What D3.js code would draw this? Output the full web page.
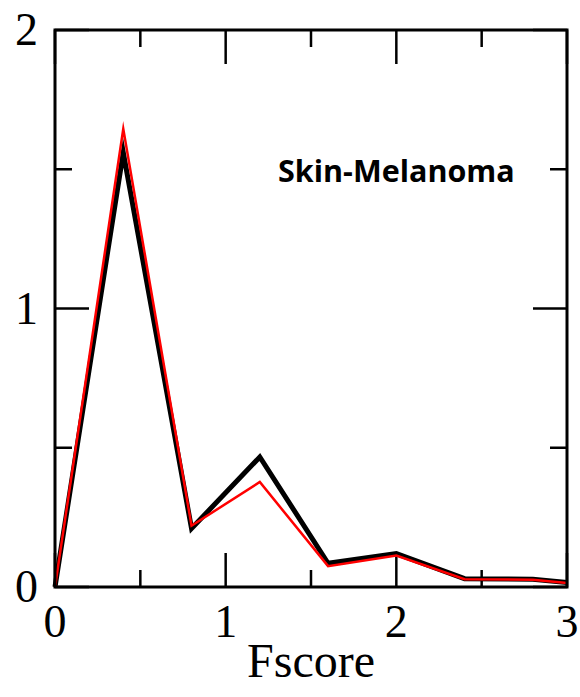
<!DOCTYPE html>
<html>
<head>
<meta charset="utf-8">
<script src="https://cdn.jsdelivr.net/npm/d3@7"></script>
<style>
  html, body { margin: 0; padding: 0; background: #fff; }
  svg { display: block; }
</style>
</head>
<body>
<svg id="chart" width="580" height="697"></svg>
<script>
const fscore = [0, 0.4, 0.8, 1.2, 1.6, 2.0, 2.4, 2.8, 3.0];
const blackSeries = [0, 1.56, 0.21, 0.467, 0.085, 0.12, 0.03, 0.028, 0.016];
const redSeries = [0, 1.645, 0.22, 0.377, 0.075, 0.113, 0.028, 0.026, 0.014];
const xTickLabels = ["0", "1", "2", "3"];
const yTickLabels = ["0", "1", "2"];
const xMinorTicks = [0.5, 1.5, 2.5];
const yMinorTicks = [0.5, 1.5];
const xLabel = "Fscore";
const panelLabel = "Skin-Melanoma";

const svg = d3.select("#chart");
const L = 55, R = 567, T = 30, B = 587;
const x = d3.scaleLinear().domain([0, 3]).range([L, R]);
const y = d3.scaleLinear().domain([0, 2]).range([B, T]);

const serif = "'Liberation Serif', 'Times New Roman', serif";
const major = 34, minor = 17;

// ticks (inward on all four sides)
const tg = svg.append("g").attr("stroke", "#000").attr("stroke-width", 2.5);
xTickLabels.map(Number).forEach(v => {
  tg.append("line").attr("x1", x(v)).attr("x2", x(v)).attr("y1", B).attr("y2", B - major);
  tg.append("line").attr("x1", x(v)).attr("x2", x(v)).attr("y1", T).attr("y2", T + major);
});
xMinorTicks.forEach(v => {
  tg.append("line").attr("x1", x(v)).attr("x2", x(v)).attr("y1", B).attr("y2", B - minor);
  tg.append("line").attr("x1", x(v)).attr("x2", x(v)).attr("y1", T).attr("y2", T + minor);
});
yTickLabels.map(Number).forEach(v => {
  tg.append("line").attr("y1", y(v)).attr("y2", y(v)).attr("x1", L).attr("x2", L + major);
  tg.append("line").attr("y1", y(v)).attr("y2", y(v)).attr("x1", R).attr("x2", R - major);
});
yMinorTicks.forEach(v => {
  tg.append("line").attr("y1", y(v)).attr("y2", y(v)).attr("x1", L).attr("x2", L + minor);
  tg.append("line").attr("y1", y(v)).attr("y2", y(v)).attr("x1", R).attr("x2", R - minor);
});

// lines
const line = d3.line().x((d, i) => x(fscore[i])).y(d => y(d));
svg.append("path").datum(blackSeries).attr("d", line)
  .attr("fill", "none").attr("stroke", "#000").attr("stroke-width", 5)
  .attr("stroke-linejoin", "miter").attr("stroke-miterlimit", 10);
svg.append("path").datum(redSeries).attr("d", line)
  .attr("fill", "none").attr("stroke", "#ff0000").attr("stroke-width", 2.5)
  .attr("stroke-linejoin", "miter").attr("stroke-miterlimit", 10);

// frame
svg.append("rect").attr("x", L).attr("y", T).attr("width", R - L).attr("height", B - T)
  .attr("fill", "none").attr("stroke", "#000").attr("stroke-width", 3);

// tick labels
svg.append("g").selectAll("text").data(xTickLabels).join("text")
  .attr("x", d => x(+d)).attr("y", 637)
  .attr("text-anchor", "middle")
  .attr("font-family", serif).attr("font-size", 46)
  .text(d => d);
svg.append("g").selectAll("text").data(yTickLabels).join("text")
  .attr("x", 38).attr("y", d => y(+d) + 15)
  .attr("text-anchor", "end")
  .attr("font-family", serif).attr("font-size", 46)
  .text(d => d);

// axis title
svg.append("text").attr("x", (L + R) / 2).attr("y", 677)
  .attr("text-anchor", "middle")
  .attr("font-family", serif).attr("font-size", 48)
  .text(xLabel);

// panel label
svg.append("text").attr("x", 278).attr("y", 182)
  .attr("font-family", "'Open Sans', sans-serif").attr("font-weight", "bold")
  .attr("font-size", 30.5)
  .text(panelLabel);
</script>
</body>
</html>
